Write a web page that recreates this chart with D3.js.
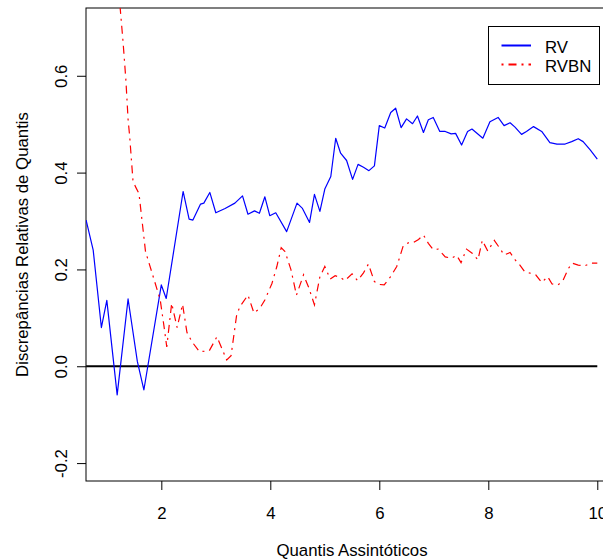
<!DOCTYPE html>
<html>
<head>
<meta charset="utf-8">
<script src="https://cdn.jsdelivr.net/npm/d3@7"></script>
<style>
  html, body { margin: 0; padding: 0; background: #ffffff; }
  svg { display: block; font-family: "Liberation Sans", Arial, sans-serif; }
</style>
</head>
<body>
<svg id="chart" width="603" height="560"></svg>
<script>
// Relative quantile discrepancies for the two statistics
const rvX = [0.62, 0.75, 0.90, 1.00, 1.19, 1.39, 1.56, 1.68, 2.00, 2.09, 2.40, 2.51, 2.58, 2.72, 2.78, 2.89,
  3.00, 3.17, 3.35, 3.49, 3.59, 3.71, 3.80, 3.90, 3.99, 4.10, 4.30, 4.49, 4.59, 4.72, 4.81, 4.91,
  5.00, 5.11, 5.20, 5.29, 5.40, 5.51, 5.61, 5.71, 5.81, 5.91, 6.00, 6.10, 6.21, 6.30, 6.40, 6.50,
  6.61, 6.70, 6.81, 6.90, 6.99, 7.11, 7.21, 7.32, 7.40, 7.51, 7.62, 7.70, 7.90, 8.03, 8.18, 8.29,
  8.40, 8.49, 8.61, 8.70, 8.83, 8.98, 9.13, 9.26, 9.41, 9.53, 9.65, 9.74, 9.87, 10.00];
const rvY = [0.302, 0.240, 0.080, 0.136, -0.059, 0.139, 0.010, -0.049, 0.168, 0.140, 0.361, 0.304, 0.302, 0.335, 0.337, 0.359,
  0.317, 0.326, 0.337, 0.352, 0.314, 0.321, 0.316, 0.350, 0.311, 0.317, 0.278, 0.337, 0.326, 0.297, 0.355, 0.320,
  0.366, 0.392, 0.471, 0.440, 0.425, 0.386, 0.417, 0.411, 0.404, 0.414, 0.497, 0.492, 0.524, 0.533, 0.493, 0.511,
  0.501, 0.517, 0.483, 0.509, 0.514, 0.485, 0.485, 0.480, 0.481, 0.457, 0.485, 0.490, 0.471, 0.505, 0.514, 0.497,
  0.503, 0.494, 0.479, 0.485, 0.495, 0.485, 0.462, 0.459, 0.459, 0.464, 0.470, 0.464, 0.447, 0.428];

const rvbnX = [1.20, 1.30, 1.35, 1.39, 1.42, 1.48, 1.53, 1.59, 1.71, 1.87, 1.98, 2.05, 2.10, 2.19, 2.29, 2.39,
  2.47, 2.56, 2.70, 2.88, 3.02, 3.11, 3.20, 3.28, 3.38, 3.44, 3.59, 3.70, 3.81, 3.90, 4.03, 4.12,
  4.20, 4.27, 4.38, 4.48, 4.61, 4.71, 4.81, 4.91, 5.00, 5.10, 5.19, 5.28, 5.37, 5.50, 5.60, 5.71,
  5.80, 5.91, 6.00, 6.09, 6.20, 6.32, 6.44, 6.53, 6.62, 6.72, 6.81, 6.90, 6.99, 7.08, 7.21, 7.32,
  7.42, 7.50, 7.60, 7.71, 7.81, 7.89, 7.99, 8.11, 8.21, 8.29, 8.40, 8.49, 8.58, 8.67, 8.78, 8.87,
  8.98, 9.09, 9.17, 9.28, 9.37, 9.47, 9.54, 9.65, 9.76, 9.88, 10.00];
const rvbnY = [0.800, 0.667, 0.591, 0.510, 0.474, 0.383, 0.370, 0.357, 0.237, 0.178, 0.137, 0.082, 0.040, 0.130, 0.080, 0.128,
  0.070, 0.051, 0.030, 0.032, 0.061, 0.037, 0.013, 0.022, 0.104, 0.123, 0.147, 0.110, 0.120, 0.137, 0.171, 0.206,
  0.245, 0.237, 0.199, 0.147, 0.189, 0.161, 0.127, 0.185, 0.206, 0.180, 0.187, 0.184, 0.177, 0.191, 0.177, 0.193,
  0.211, 0.175, 0.169, 0.168, 0.184, 0.206, 0.249, 0.255, 0.255, 0.262, 0.271, 0.254, 0.241, 0.242, 0.226, 0.223,
  0.229, 0.214, 0.242, 0.233, 0.220, 0.260, 0.238, 0.260, 0.244, 0.230, 0.235, 0.220, 0.209, 0.195, 0.192, 0.189,
  0.173, 0.185, 0.170, 0.168, 0.177, 0.202, 0.213, 0.209, 0.207, 0.213, 0.213];

const xTicks = [2, 4, 6, 8, 10];
const yTicks = [-0.2, 0.0, 0.2, 0.4, 0.6];
const seriesNames = ["RV", "RVBN"];
const xTitle = "Quantis Assintóticos";
const yTitle = "Discrepâncias Relativas de Quantis";

const svg = d3.select("#chart");
const plot = { left: 86, top: 8, right: 618, bottom: 481 };

const x = d3.scaleLinear().domain([0.618, 10.38]).range([plot.left, plot.right]);
const y = d3.scaleLinear().domain([-0.237, 0.740]).range([plot.bottom, plot.top]);

svg.append("rect").attr("width", 603).attr("height", 560).attr("fill", "#ffffff");

svg.append("defs").append("clipPath").attr("id", "plotClip")
  .append("rect")
  .attr("x", plot.left).attr("y", plot.top)
  .attr("width", plot.right - plot.left).attr("height", plot.bottom - plot.top);

const fontSize = 16.8;

// Y axis (rotated labels, outward ticks)
const yAxis = svg.append("g")
  .attr("transform", `translate(${plot.left},0)`)
  .call(d3.axisLeft(y).tickValues(yTicks).tickSize(9).tickFormat(d => d.toFixed(1)));
yAxis.select(".domain").remove();
yAxis.selectAll(".tick line").attr("stroke", "#000").attr("stroke-width", 1);
yAxis.selectAll(".tick text")
  .attr("font-size", fontSize)
  .attr("font-family", "Liberation Sans, Arial, sans-serif")
  .attr("fill", "#000")
  .attr("x", null).attr("dy", null)
  .attr("text-anchor", "middle")
  .attr("transform", "translate(-19.5,0) rotate(-90)");

// X axis
const xAxis = svg.append("g")
  .attr("transform", `translate(0,${plot.bottom})`)
  .call(d3.axisBottom(x).tickValues(xTicks).tickSize(9).tickFormat(d => String(d)));
xAxis.select(".domain").remove();
xAxis.selectAll(".tick line").attr("stroke", "#000").attr("stroke-width", 1);
xAxis.selectAll(".tick text")
  .attr("font-size", fontSize)
  .attr("font-family", "Liberation Sans, Arial, sans-serif")
  .attr("fill", "#000")
  .attr("dy", null)
  .attr("y", 37.5);

// Plot frame
svg.append("rect")
  .attr("x", plot.left).attr("y", plot.top)
  .attr("width", plot.right - plot.left).attr("height", plot.bottom - plot.top)
  .attr("fill", "none").attr("stroke", "#000").attr("stroke-width", 1);

const lines = svg.append("g").attr("clip-path", "url(#plotClip)");

const lineGen = d3.line().x(d => x(d[0])).y(d => y(d[1]));

// Reference line at zero discrepancy
lines.append("path")
  .datum([[rvX[0], 0], [rvX[rvX.length - 1], 0]])
  .attr("d", lineGen)
  .attr("fill", "none").attr("stroke", "#000").attr("stroke-width", 2);

lines.append("path")
  .datum(rvX.map((v, i) => [v, rvY[i]]))
  .attr("d", lineGen)
  .attr("fill", "none").attr("stroke", "#0000ff").attr("stroke-width", 1.2)
  .attr("stroke-linejoin", "round");

lines.append("path")
  .datum(rvbnX.map((v, i) => [v, rvbnY[i]]))
  .attr("d", lineGen)
  .attr("fill", "none").attr("stroke", "#ff0000").attr("stroke-width", 1.2)
  .attr("stroke-dasharray", "2,5,8,5");

// Axis titles
svg.append("text")
  .attr("x", (plot.left + plot.right) / 2).attr("y", 555.5)
  .attr("text-anchor", "middle").attr("font-size", fontSize).attr("fill", "#000")
  .text(xTitle);

svg.append("text")
  .attr("transform", `translate(27.5,${(plot.top + plot.bottom) / 2}) rotate(-90)`)
  .attr("text-anchor", "middle").attr("font-size", fontSize).attr("fill", "#000")
  .text(yTitle);

// Legend
const legend = svg.append("g");
legend.append("rect")
  .attr("x", 488.5).attr("y", 26.5).attr("width", 111).attr("height", 58)
  .attr("fill", "#fff").attr("stroke", "#000").attr("stroke-width", 1);
const legendStyles = [
  { color: "#0000ff", dash: null },
  { color: "#ff0000", dash: "2,5,8,5" }
];
seriesNames.forEach((name, i) => {
  const ly = 45.5 + i * 19;
  legend.append("line")
    .attr("x1", 501.5).attr("x2", 531).attr("y1", ly).attr("y2", ly)
    .attr("stroke", legendStyles[i].color).attr("stroke-width", 2)
    .attr("stroke-dasharray", legendStyles[i].dash);
  legend.append("text")
    .attr("x", 545).attr("y", ly + 7)
    .attr("font-size", fontSize).attr("fill", "#000")
    .text(name);
});
</script>
</body>
</html>
